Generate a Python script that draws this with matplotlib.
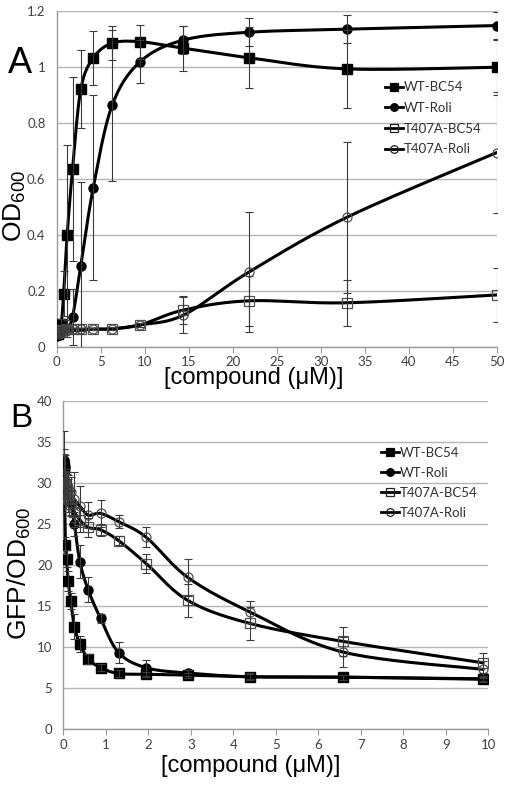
import numpy as np
import matplotlib
matplotlib.use('Agg')
import matplotlib.pyplot as plt
from matplotlib.lines import Line2D

# ---------------- Panel A data (OD600) ----------------
xA = [0.044, 0.066, 0.1, 0.15, 0.23, 0.34, 0.52, 0.79, 1.19, 1.8, 2.74, 4.15, 6.3, 9.5, 14.4, 21.8, 33, 50]
A_wt_bc54 = [0.045, 0.045, 0.047, 0.05, 0.052, 0.06, 0.08, 0.19, 0.40, 0.635, 0.92, 1.032, 1.085, 1.09, 1.067, 1.033, 0.993, 0.999]
A_wt_bc54_err = [0.01, 0.01, 0.01, 0.01, 0.01, 0.01, 0.02, 0.08, 0.32, 0.33, 0.14, 0.095, 0.06, 0.06, 0.08, 0.11, 0.14, 0.10]
A_wt_roli = [0.04, 0.042, 0.045, 0.045, 0.048, 0.05, 0.052, 0.055, 0.065, 0.107, 0.29, 0.568, 0.863, 1.019, 1.096, 1.124, 1.135, 1.148]
A_wt_roli_err = [0.01, 0.01, 0.01, 0.01, 0.01, 0.01, 0.01, 0.02, 0.03, 0.10, 0.30, 0.33, 0.27, 0.076, 0.05, 0.05, 0.05, 0.05]
A_t_bc54 = [0.05, 0.05, 0.052, 0.052, 0.055, 0.055, 0.058, 0.06, 0.062, 0.062, 0.062, 0.063, 0.064, 0.078, 0.131, 0.164, 0.157, 0.185]
A_t_bc54_err = [0.005, 0.005, 0.005, 0.005, 0.005, 0.005, 0.005, 0.005, 0.005, 0.005, 0.005, 0.005, 0.005, 0.008, 0.05, 0.09, 0.083, 0.095]
A_t_roli = [0.05, 0.05, 0.052, 0.053, 0.055, 0.056, 0.058, 0.06, 0.062, 0.062, 0.062, 0.063, 0.064, 0.078, 0.113, 0.266, 0.463, 0.694]
A_t_roli_err = [0.005, 0.005, 0.005, 0.005, 0.005, 0.005, 0.005, 0.005, 0.005, 0.005, 0.005, 0.005, 0.005, 0.008, 0.065, 0.215, 0.27, 0.215]

# ---------------- Panel B data (GFP/OD600) ----------------
xB = [0.0152, 0.0228, 0.0342, 0.0513, 0.0769, 0.115, 0.173, 0.260, 0.390, 0.585, 0.878, 1.30, 1.95, 2.93, 4.39, 6.59, 9.88]
B_wt_bc54 = [32.0, 31.7, 28.0, 22.4, 20.8, 18.1, 15.6, 12.5, 10.4, 8.6, 7.5, 6.8, 6.7, 6.6, 6.4, 6.35, 6.1]
B_wt_bc54_err = [1.5, 1.5, 1.5, 1.0, 1.0, 1.2, 1.0, 1.5, 1.0, 0.6, 0.4, 0.4, 0.3, 0.3, 0.3, 0.3, 0.3]
B_wt_roli = [32.8, 32.7, 31.9, 30.2, 29.6, 29.0, 27.6, 25.0, 20.4, 17.0, 13.5, 9.35, 7.5, 6.85, 6.4, 6.35, 6.15]
B_wt_roli_err = [3.6, 1.5, 1.5, 1.5, 1.5, 1.5, 1.5, 1.5, 2.0, 1.5, 0.6, 1.3, 1.0, 0.4, 0.4, 0.3, 0.3]
B_t_bc54 = [28.5, 29.3, 29.8, 29.0, 28.6, 28.0, 27.5, 26.5, 25.5, 24.6, 24.3, 23.0, 20.2, 15.7, 12.9, 10.7, 8.1]
B_t_bc54_err = [1.0, 1.0, 1.0, 1.0, 1.0, 1.5, 1.5, 1.2, 1.5, 1.2, 0.7, 0.6, 1.2, 2.0, 2.0, 1.8, 1.2]
B_t_roli = [29.2, 29.6, 30.2, 30.0, 29.8, 29.5, 28.9, 28.0, 27.2, 26.1, 26.3, 25.3, 23.4, 18.5, 14.3, 9.4, 7.3]
B_t_roli_err = [1.0, 1.0, 1.0, 1.5, 1.5, 1.5, 1.8, 3.3, 2.5, 1.6, 1.6, 0.8, 1.2, 2.2, 1.3, 1.8, 1.0]

labels = ['WT-BC54', 'WT-Roli', 'T407A-BC54', 'T407A-Roli']

plt.rcParams['mathtext.fontset'] = 'custom'
plt.rcParams['mathtext.rm'] = 'Liberation Sans'
plt.rcParams['mathtext.it'] = 'Liberation Sans:italic'
plt.rcParams['mathtext.bf'] = 'Liberation Sans:bold'

TICKC = '#404040'
GRIDC = '#b5b5b5'
SPINEC = '#9a9a9a'

fig = plt.figure(figsize=(5.12, 7.86), dpi=100)
axA = fig.add_axes([56.7 / 512, 1 - 346.7 / 786, 440 / 512, 335.7 / 786])
axB = fig.add_axes([63.3 / 512, 1 - 729.3 / 786, 425 / 512, 328.3 / 786])


def smooth(ax, x, y, n=24):
    pts = ax.transData.transform(np.column_stack([x, y]))
    P = np.vstack([pts[0], pts, pts[-1]])
    out = []
    t = np.linspace(0, 1, n)[:, None]
    for i in range(1, len(P) - 2):
        p0, p1, p2, p3 = P[i - 1], P[i], P[i + 1], P[i + 2]
        c1 = p1 + (p2 - p0) / 6.0
        c2 = p2 - (p3 - p1) / 6.0
        seg = (1 - t) ** 3 * p1 + 3 * (1 - t) ** 2 * t * c1 + 3 * (1 - t) * t ** 2 * c2 + t ** 3 * p2
        out.append(seg if i == 1 else seg[1:])
    return ax.transData.inverted().transform(np.vstack(out))


styles = [
    dict(marker='s', mfc='black', mec='black', ms=6.5, mew=1.0),
    dict(marker='o', mfc='black', mec='black', ms=6.5, mew=1.0),
    dict(marker='s', mfc='none', mec='#505050', ms=6.5, mew=0.9),
    dict(marker='o', mfc='none', mec='#505050', ms=6.5, mew=0.9),
]


def setup(ax, xlim, ylim, xticks, yticks, yfmt):
    ax.set_xlim(*xlim)
    ax.set_ylim(*ylim)
    ax.set_xticks(xticks)
    ax.set_yticks(yticks)
    ax.set_yticklabels([yfmt(v) for v in yticks])
    ax.set_xticklabels([('%g' % v) for v in xticks])
    for s in ['top', 'right']:
        ax.spines[s].set_visible(False)
    for s in ['left', 'bottom']:
        ax.spines[s].set_color(SPINEC)
        ax.spines[s].set_linewidth(1.0)
    ax.yaxis.grid(True, color=GRIDC, lw=1.0)
    ax.set_axisbelow(True)
    ax.tick_params(axis='y', length=0, pad=8, labelsize=9.5, labelcolor=TICKC)
    ax.tick_params(axis='x', length=4, color=SPINEC, pad=3, labelsize=9.5, labelcolor=TICKC)
    for lab in ax.get_xticklabels() + ax.get_yticklabels():
        lab.set_fontfamily('Lato')


def draw(ax, x, series, errs):
    for y, e, st, lab in zip(series, errs, styles, labels):
        sp = smooth(ax, x, y)
        ax.plot(sp[:, 0], sp[:, 1], color='black', lw=2.2, zorder=3, solid_capstyle='round')
        ax.plot(x, y, ls='none', zorder=4, **st)
        ax.errorbar(x, y, yerr=e, fmt='none', ecolor='#3a3a3a', elinewidth=0.8, capsize=2.6, capthick=0.8, zorder=5)


def legend(ax, anchor, spacing):
    handles = [Line2D([], [], color='black', lw=2.0, marker=st['marker'], mfc=st['mfc'],
                      mec=('black' if st['mfc'] == 'black' else '#202020'), ms=5.5, mew=0.9) for st in styles]
    leg = ax.legend(handles, labels, loc='upper left', bbox_to_anchor=anchor, frameon=False,
                    handlelength=1.4, handletextpad=0.05, labelspacing=spacing, borderpad=0,
                    borderaxespad=0, prop={'family': 'Lato', 'size': 9.5})
    for t in leg.get_texts():
        t.set_color('#303030')


# Panel A
setup(axA, (0, 50), (0, 1.2), np.arange(0, 51, 5), [0, 0.2, 0.4, 0.6, 0.8, 1.0, 1.2],
      lambda v: '0' if v == 0 else ('1' if v == 1 else '%g' % v))
draw(axA, xA, [A_wt_bc54, A_wt_roli, A_t_bc54, A_t_roli],
     [A_wt_bc54_err, A_wt_roli_err, A_t_bc54_err, A_t_roli_err])
legend(axA, (0.745, 0.79), 0.65)

# Panel B
setup(axB, (0, 10), (0, 40), np.arange(0, 11, 1), np.arange(0, 41, 5), lambda v: '%d' % v)
draw(axB, xB, [B_wt_bc54, B_wt_roli, B_t_bc54, B_t_roli],
     [B_wt_bc54_err, B_wt_roli_err, B_t_bc54_err, B_t_roli_err])
legend(axB, (0.747, 0.86), 0.6)

# Labels
fig.text(8 / 512, 1 - 73 / 786, 'A', fontsize=26, family='Liberation Sans', va='baseline', ha='left')
fig.text(10 / 512, 1 - 427 / 786, 'B', fontsize=24, family='Liberation Sans', va='baseline', ha='left')
fig.text(254 / 512, 1 - 378 / 786, '[compound (\u03bcM)]', fontsize=17, family='Liberation Sans',
         ha='center', va='center')
fig.text(251 / 512, 1 - 766 / 786, '[compound (\u03bcM)]', fontsize=17, family='Liberation Sans',
         ha='center', va='center')
fig.text(15 / 512, 1 - 206 / 786, r'OD$_{\mathregular{600}}$', fontsize=19, family='Liberation Sans',
         rotation=90, ha='center', va='center')
fig.text(19 / 512, 1 - 573 / 786, r'GFP/OD$_{\mathregular{600}}$', fontsize=19, family='Liberation Sans',
         rotation=90, ha='center', va='center')

fig.savefig('out.png', dpi=100)
